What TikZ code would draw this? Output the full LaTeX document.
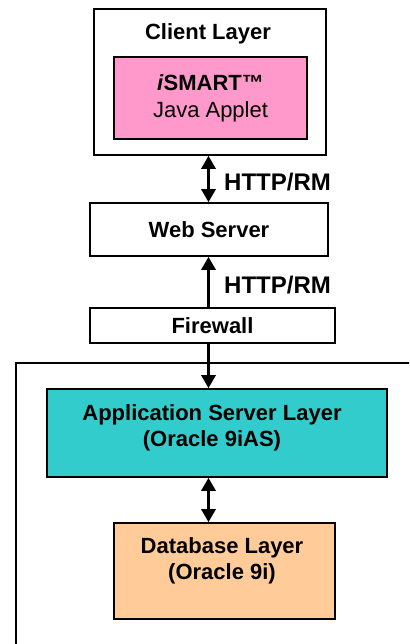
\documentclass[tikz,border=0pt]{standalone}
\usepackage{fontspec}
\setmainfont{Liberation Sans}
\usetikzlibrary{arrows.meta}
\definecolor{appletpink}{HTML}{FF99CC}
\definecolor{appteal}{HTML}{33CCCC}
\definecolor{dbpeach}{HTML}{FFCC99}

\begin{document}
\begin{tikzpicture}[x=1pt,y=-1pt,
	layer/.style={draw=black, line width=1.6pt, inner sep=0pt, align=center, font=\fontsize{22}{27}\selectfont\bfseries},
	layertext/.style={inner sep=0pt, align=center, font=\fontsize{22}{26}\selectfont\bfseries},
	link/.style={line width=3pt, -{Triangle[width=14pt,length=13pt]}},
	twoway/.style={line width=3pt, {Triangle[width=14pt,length=13pt]}-{Triangle[width=14pt,length=13pt]}},
	proto/.style={anchor=west, inner sep=0pt, font=\fontsize{24}{26}\selectfont\bfseries}]
	% Parameters
	\def\arrowx{208.5}
	\useasboundingbox (0,0) rectangle (409,644);
	\clip (0,0) rectangle (409,644);
	
	%server side frame
	\draw[line width=1.6pt] (16,363) rectangle (440,670);
	
	%blocks
	\node[layer, minimum width=232pt, minimum height=146pt] (client) at (210,82) {};
	\node[layertext] (clienttxt) at (208,34) {Client Layer};
	\node[layer, fill=appletpink, minimum width=193pt, minimum height=82pt] (applet) at (210.5,98) {\textit{i}SMART™\\\mdseries Java Applet};
	\node[layer, minimum width=238pt, minimum height=53pt] (web) at (209,229.5) {Web Server};
	\node[layer, minimum width=245pt, minimum height=35pt] (firewall) at (212.5,325.5) {Firewall};
	\node[layer, fill=appteal, minimum width=340pt, minimum height=88pt] (app) at (217,433) {};
	\node[layertext] (apptxt) at (212,428) {Application Server Layer\\(Oracle 9iAS)};
	\node[layer, fill=dbpeach, minimum width=221pt, minimum height=96pt] (db) at (224.5,571) {};
	\node[layertext] (dbtxt) at (222,561) {Database Layer\\(Oracle 9i)};
	
	%protocols
	\node[proto] (httpa) at (224,182) {HTTP/RM};
	\node[proto] (httpb) at (224,285) {HTTP/RM};
	
	%links
	\coordinate (ax) at (\arrowx,0);
	\draw[twoway] (client.south -| ax) -- (web.north -| ax);
	\draw[link] (firewall.north -| ax) -- (web.south -| ax);
	\draw[link] (firewall.south -| ax) -- (app.north -| ax);
	\draw[twoway] (app.south -| ax) -- (db.north -| ax);
\end{tikzpicture}
\end{document}
